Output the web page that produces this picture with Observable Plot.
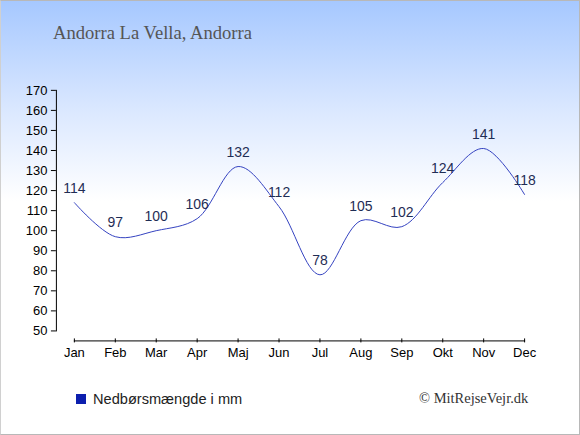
<!DOCTYPE html>
<html>
<head>
<meta charset="utf-8">
<script src="https://cdn.jsdelivr.net/npm/d3@7"></script>
<script src="https://cdn.jsdelivr.net/npm/@observablehq/plot@0.6"></script>
<style>
  html, body { margin: 0; padding: 0; }
  #box {
    position: relative; width: 580px; height: 435px; box-sizing: border-box;
    border: 1px solid #b8b8b8; border-left-color: #d0d0d0;
    background: linear-gradient(to bottom, #a6c8ff 0px, #dbe8ff 110px, #ffffff 200px, #ffffff 100%);
    overflow: hidden; font-family: "Liberation Sans", Arial, sans-serif;
  }
  #title { position: absolute; left: 52px; top: 21px; font-family: "Liberation Serif", "DejaVu Serif", serif; font-size: 18.6px; color: #555; }
  #chart { position: absolute; left: -1px; top: -1px; }
  #legend { position: absolute; left: 75px; top: 390px; font-size: 14.6px; color: #222; display: flex; align-items: center; }
  #legend span.sw { display: inline-block; width: 10px; height: 10px; background: #0c1fae; margin-right: 7px; }
  #credit { position: absolute; left: 418px; top: 389px; font-family: "Liberation Serif", serif; font-size: 14.5px; color: #333; }
</style>
</head>
<body>
<div id="box">
  <div id="title">Andorra La Vella, Andorra</div>
  <div id="chart"></div>
  <div id="legend"><span class="sw"></span>Nedbørsmængde i mm</div>
  <div id="credit">© MitRejseVejr.dk</div>
</div>
<script>
const months = ["Jan","Feb","Mar","Apr","Maj","Jun","Jul","Aug","Sep","Okt","Nov","Dec"];
const precipitation = [114, 97, 100, 106, 132, 112, 78, 105, 102, 124, 141, 118];
const yTicks = [50, 60, 70, 80, 90, 100, 110, 120, 130, 140, 150, 160, 170];

const data = months.map((m, i) => ({month: m, value: precipitation[i]}));

const chart = Plot.plot({
  width: 580,
  height: 435,
  marginLeft: 74,
  marginRight: 55,
  marginTop: 90,
  marginBottom: 104,
  style: {background: "transparent", fontFamily: "Liberation Sans, Arial, sans-serif"},
  x: {type: "point", domain: months, padding: 0},
  y: {domain: [50, 170]},
  marks: [
    Plot.frame({anchor: "left", dx: -18, stroke: "#000"}),
    Plot.frame({anchor: "bottom", dy: 10, stroke: "#000"}),
    Plot.axisY({ticks: yTicks, tickSize: 5, dx: -18, tickPadding: 4, fontSize: 13, label: null, color: "#000"}),
    Plot.axisX({tickSize: 4, dy: 8, tickPadding: 5, fontSize: 13, label: null, color: "#000"}),
    Plot.line(data, {x: "month", y: "value", curve: "catmull-rom", stroke: "#3341c0", strokeWidth: 1}),
    Plot.text(data, {x: "month", y: "value", text: d => String(d.value), dy: -14, fontSize: 14, fill: "#1f2d55"})
  ]
});
document.getElementById("chart").appendChild(chart);
</script>
</body>
</html>
